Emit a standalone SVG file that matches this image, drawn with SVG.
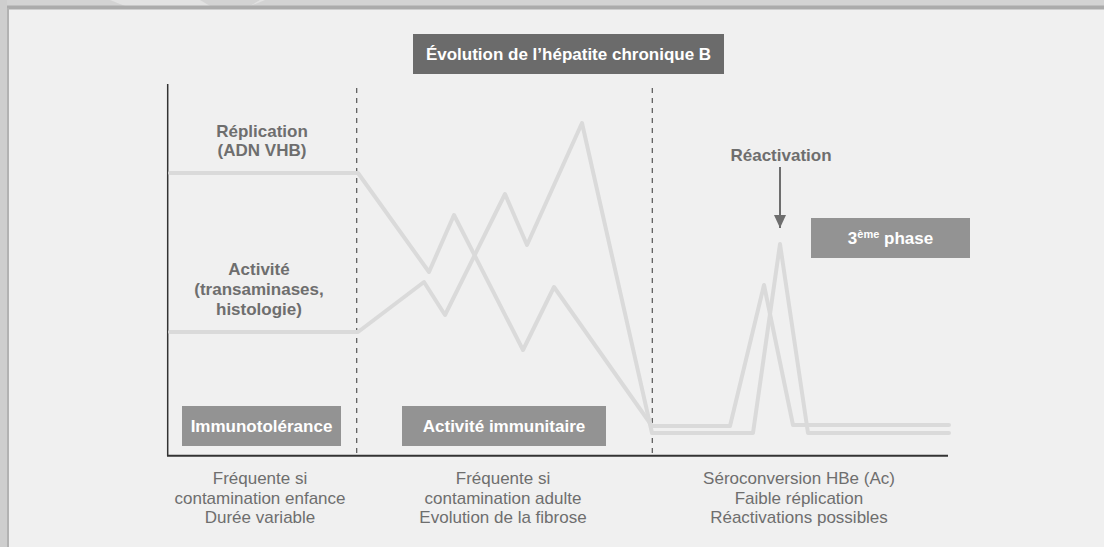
<svg xmlns="http://www.w3.org/2000/svg" width="1104" height="547" viewBox="0 0 1104 547">
<defs>
<style>
.lbl{font-family:"Liberation Sans",Arial,sans-serif;font-weight:bold;font-size:17px;fill:#6e6e6e;text-anchor:middle}
.box{fill:#939393}
.boxt{font-family:"Liberation Sans",Arial,sans-serif;font-weight:bold;font-size:17px;fill:#ffffff;text-anchor:middle}
.desc{font-family:"Liberation Sans",Arial,sans-serif;font-size:17px;fill:#6e6e6e;text-anchor:middle}
.curve{fill:none;stroke:#dadada;stroke-width:4;stroke-linejoin:round;stroke-linecap:round}
.dash{stroke:#555;stroke-width:1.2;stroke-dasharray:5,5}
</style>
<marker id="arr" markerWidth="14" markerHeight="12" refX="13" refY="6" orient="auto" markerUnits="userSpaceOnUse">
<path d="M0,0 L13,6 L0,12 Z" fill="#6e6e6e"/>
</marker>
</defs>
<rect x="0" y="0" width="1104" height="547" fill="#f0f0f0"/>
<g id="frame">
<rect x="0" y="0" width="1104" height="6" fill="#d3d3d3"/>
<path d="M110,0 L125,6 L250,6 L265,0 Z M200,0 L260,0 L250,6 L210,6 Z" fill="#e2e2e2"/>
<rect x="0" y="5.5" width="1104" height="4" fill="#ababab"/>
<rect x="0" y="0" width="7" height="547" fill="#cecece"/>
<rect x="7" y="8" width="2" height="539" fill="#b2b2b2"/>
</g>
<g id="axes">
<line x1="167.7" y1="84" x2="167.7" y2="456" stroke="#333" stroke-width="1.5"/>
<line x1="167" y1="455.7" x2="948" y2="455.7" stroke="#333" stroke-width="2"/>
<line class="dash" x1="356.7" y1="88" x2="356.7" y2="456"/>
<line class="dash" x1="652.3" y1="88" x2="652.3" y2="456"/>
</g>
<g id="connectors">
<polyline class="curve" points="170,173 358,173 429,272 454,215 523,350 554,287 652,426 730,426 764,285 793,425 949,425"/>
<polyline class="curve" points="170,332 358,332 424,282 445,315 505,194 527,245 582,123 652,433 753,433 780,244 808,433 949,433"/>
<line x1="780" y1="167" x2="780" y2="228" stroke="#6e6e6e" stroke-width="2" marker-end="url(#arr)"/>
</g>
<g id="title">
<rect x="413" y="34" width="311" height="40" fill="#6b6b6b"/>
<text class="boxt" x="568.5" y="60">Évolution de l’hépatite chronique B</text>
</g>
<g id="replication">
<text class="lbl" x="262" y="137">Réplication</text>
<text class="lbl" x="262" y="156">(ADN VHB)</text>
</g>
<g id="activite">
<text class="lbl" x="259" y="275">Activité</text>
<text class="lbl" x="259" y="295">(transaminases,</text>
<text class="lbl" x="259" y="315">histologie)</text>
</g>
<g id="reactivation">
<text class="lbl" x="781" y="161">Réactivation</text>
</g>
<g id="phase3">
<rect class="box" x="811" y="218" width="159" height="40"/>
<text class="boxt" x="890.5" y="244">3<tspan font-size="11" dy="-6">ème</tspan><tspan dy="6"> phase</tspan></text>
</g>
<g id="immunotolerance">
<rect class="box" x="182" y="406" width="159" height="40"/>
<text class="boxt" x="261.5" y="432">Immunotolérance</text>
</g>
<g id="activite-immunitaire">
<rect class="box" x="402" y="406" width="204" height="40"/>
<text class="boxt" x="504" y="432">Activité immunitaire</text>
</g>
<g id="desc1">
<text class="desc" x="260" y="484">Fréquente si</text>
<text class="desc" x="260" y="504">contamination enfance</text>
<text class="desc" x="260" y="523">Durée variable</text>
</g>
<g id="desc2">
<text class="desc" x="503" y="484">Fréquente si</text>
<text class="desc" x="503" y="504">contamination adulte</text>
<text class="desc" x="503" y="523">Evolution de la fibrose</text>
</g>
<g id="desc3">
<text class="desc" x="799" y="484">Séroconversion HBe (Ac)</text>
<text class="desc" x="799" y="504">Faible réplication</text>
<text class="desc" x="799" y="523">Réactivations possibles</text>
</g>
</svg>
